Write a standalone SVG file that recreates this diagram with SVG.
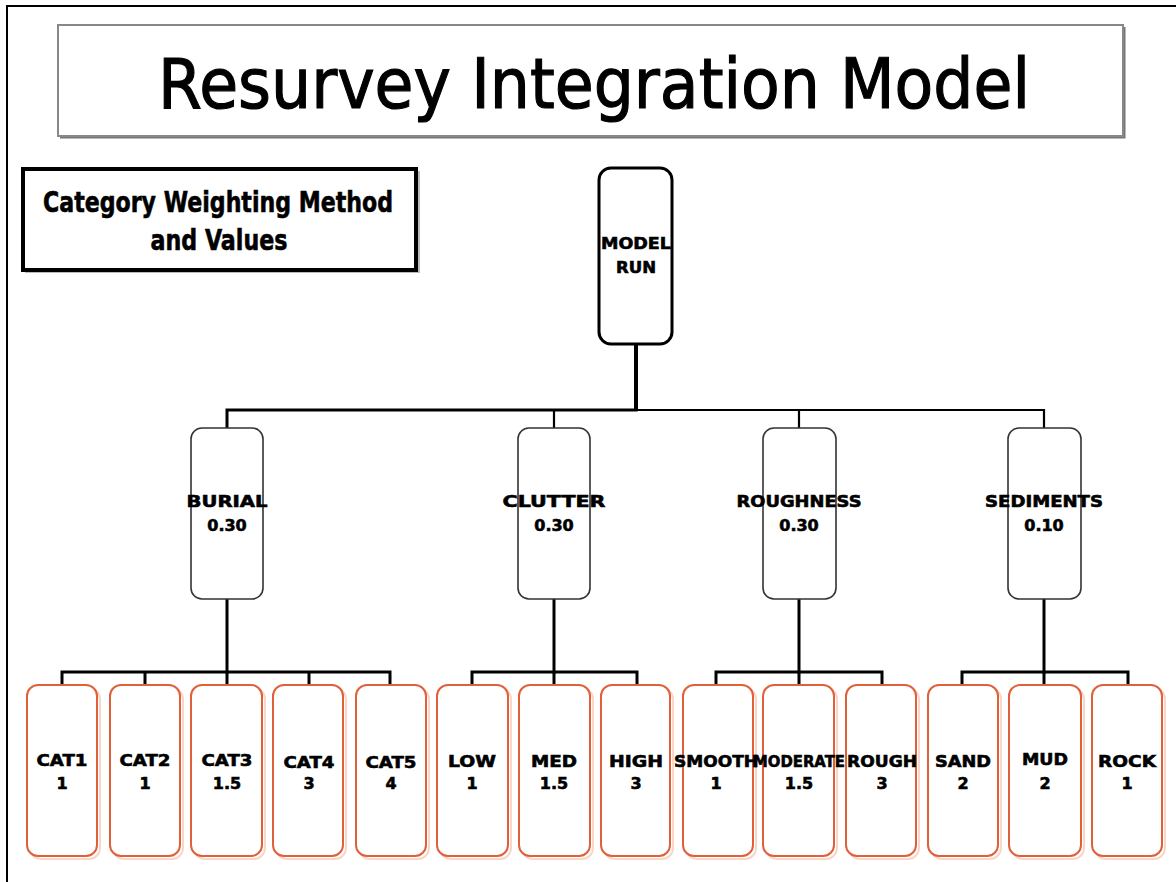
<svg xmlns="http://www.w3.org/2000/svg" width="1176" height="882" viewBox="0 0 1176 882">
  <style>
    .lbl { font-family: "DejaVu Sans", Verdana, sans-serif; font-weight: bold; font-size: 16px; fill: #000; stroke: #000; stroke-width: 0.6; text-anchor: middle; }
    .mid { fill: #fff; stroke: #333; stroke-width: 1.6; }
    .leaf { fill: #fff; stroke: #e0603a; stroke-width: 2; }
    .leafsh { fill: none; stroke: #f9d6c7; stroke-width: 2; }
    .wire { fill: none; stroke: #000; stroke-width: 3; stroke-linecap: square; }
    .wire2 { fill: none; stroke: #000; stroke-width: 2.2; }
  </style>

  <rect width="1176" height="882" fill="#fff"/>

  <!-- page frame (top and left edges only) -->
  <path d="M7 882 V6 H1176" fill="none" stroke="#000" stroke-width="2"/>

  <!-- heading -->
  <g id="title">
    <path d="M60 137 H1124 V27" fill="none" stroke="#777" stroke-width="3"/>
    <rect x="58" y="25" width="1065" height="111" fill="#fff" stroke="#888" stroke-width="2"/>
    <text x="594" y="108" font-family="DejaVu Sans, Verdana, sans-serif" font-size="70" stroke="#000" stroke-width="1.2" textLength="872" lengthAdjust="spacingAndGlyphs" text-anchor="middle">Resurvey Integration Model</text>
  </g>

  <g id="legend">
    <rect x="25" y="171" width="395" height="102" fill="#bbb"/>
    <rect x="23" y="169" width="393" height="101" fill="#fff" stroke="#000" stroke-width="4"/>
    <text x="218" y="212" font-family="DejaVu Sans, Verdana, sans-serif" font-weight="bold" font-size="28" stroke="#000" stroke-width="0.6" textLength="350" lengthAdjust="spacingAndGlyphs" text-anchor="middle">Category Weighting Method</text>
    <text x="219" y="250" font-family="DejaVu Sans, Verdana, sans-serif" font-weight="bold" font-size="28" stroke="#000" stroke-width="0.6" textLength="137" lengthAdjust="spacingAndGlyphs" text-anchor="middle">and Values</text>
  </g>

  <!-- connectors -->
  <g id="connectors">
    <line x1="636" y1="345" x2="636" y2="410" stroke="#000" stroke-width="4"/>
    <path class="wire" d="M227 427 V410 H636"/>
    <path class="wire2" d="M636 410 H1044 V428 M554 410 V428 M799 410 V428"/>
    <line class="wire" x1="227" y1="599" x2="227" y2="672"/>
    <line class="wire" x1="554" y1="599" x2="554" y2="672"/>
    <line class="wire" x1="799" y1="599" x2="799" y2="672"/>
    <line class="wire" x1="1044" y1="599" x2="1044" y2="672"/>
    <path class="wire" d="M62 685 V672 H390 V685 M145 672 V685 M227 672 V685 M309 672 V685"/>
    <path class="wire" d="M472 685 V672 H637 V685 M554 672 V685"/>
    <path class="wire" d="M716 685 V672 H882 V685 M799 672 V685"/>
    <path class="wire" d="M962 685 V672 H1128 V685 M1044 672 V685"/>
  </g>

  <g id="model-run">
    <rect x="599" y="168" width="73" height="176" rx="12" fill="#fff" stroke="#000" stroke-width="3"/>
    <text class="lbl" x="636" y="249" textLength="70" lengthAdjust="spacingAndGlyphs">MODEL</text>
    <text class="lbl" x="636" y="273" textLength="40" lengthAdjust="spacingAndGlyphs">RUN</text>
  </g>

  <g id="burial">
    <rect class="mid" x="191" y="428" width="72" height="171" rx="11"/>
    <text class="lbl" x="227" y="507" textLength="81" lengthAdjust="spacingAndGlyphs">BURIAL</text>
    <text class="lbl" x="227" y="531">0.30</text>
  </g>
  <g id="clutter">
    <rect class="mid" x="518" y="428" width="72" height="171" rx="11"/>
    <text class="lbl" x="554" y="507" textLength="103" lengthAdjust="spacingAndGlyphs">CLUTTER</text>
    <text class="lbl" x="554" y="531">0.30</text>
  </g>
  <g id="roughness">
    <rect class="mid" x="763" y="428" width="73" height="171" rx="11"/>
    <text class="lbl" x="799" y="507" textLength="125" lengthAdjust="spacingAndGlyphs">ROUGHNESS</text>
    <text class="lbl" x="799" y="531">0.30</text>
  </g>
  <g id="sediments">
    <rect class="mid" x="1008" y="428" width="73" height="171" rx="11"/>
    <text class="lbl" x="1044" y="507" textLength="118" lengthAdjust="spacingAndGlyphs">SEDIMENTS</text>
    <text class="lbl" x="1044" y="531">0.10</text>
  </g>

  <!-- leaf categories -->
  <g id="cat1">
    <rect class="leafsh" x="30" y="688" width="70" height="171" rx="11"/>
    <rect class="leaf" x="27" y="685" width="70" height="171" rx="11"/>
    <text class="lbl" x="62" y="766" textLength="51" lengthAdjust="spacingAndGlyphs">CAT1</text>
    <text class="lbl" x="62" y="789">1</text>
  </g>
  <g id="cat2">
    <rect class="leafsh" x="113" y="688" width="70" height="171" rx="11"/>
    <rect class="leaf" x="110" y="685" width="70" height="171" rx="11"/>
    <text class="lbl" x="145" y="766" textLength="51" lengthAdjust="spacingAndGlyphs">CAT2</text>
    <text class="lbl" x="145" y="789">1</text>
  </g>
  <g id="cat3">
    <rect class="leafsh" x="194" y="688" width="71" height="171" rx="11"/>
    <rect class="leaf" x="191" y="685" width="71" height="171" rx="11"/>
    <text class="lbl" x="227" y="766" textLength="51" lengthAdjust="spacingAndGlyphs">CAT3</text>
    <text class="lbl" x="227" y="789">1.5</text>
  </g>
  <g id="cat4">
    <rect class="leafsh" x="276" y="688" width="70" height="171" rx="11"/>
    <rect class="leaf" x="273" y="685" width="70" height="171" rx="11"/>
    <text class="lbl" x="309" y="768" textLength="51" lengthAdjust="spacingAndGlyphs">CAT4</text>
    <text class="lbl" x="309" y="789">3</text>
  </g>
  <g id="cat5">
    <rect class="leafsh" x="359" y="688" width="70" height="171" rx="11"/>
    <rect class="leaf" x="356" y="685" width="70" height="171" rx="11"/>
    <text class="lbl" x="391" y="768" textLength="51" lengthAdjust="spacingAndGlyphs">CAT5</text>
    <text class="lbl" x="391" y="789">4</text>
  </g>
  <g id="low">
    <rect class="leafsh" x="440" y="688" width="71" height="171" rx="11"/>
    <rect class="leaf" x="437" y="685" width="71" height="171" rx="11"/>
    <text class="lbl" x="472" y="767" textLength="48" lengthAdjust="spacingAndGlyphs">LOW</text>
    <text class="lbl" x="472" y="789">1</text>
  </g>
  <g id="med">
    <rect class="leafsh" x="522" y="688" width="71" height="171" rx="11"/>
    <rect class="leaf" x="519" y="685" width="71" height="171" rx="11"/>
    <text class="lbl" x="554" y="767" textLength="46" lengthAdjust="spacingAndGlyphs">MED</text>
    <text class="lbl" x="554" y="789">1.5</text>
  </g>
  <g id="high">
    <rect class="leafsh" x="604" y="688" width="69" height="171" rx="11"/>
    <rect class="leaf" x="601" y="685" width="69" height="171" rx="11"/>
    <text class="lbl" x="636" y="767" textLength="54" lengthAdjust="spacingAndGlyphs">HIGH</text>
    <text class="lbl" x="636" y="789">3</text>
  </g>
  <g id="smooth">
    <rect class="leafsh" x="686" y="688" width="70" height="171" rx="11"/>
    <rect class="leaf" x="683" y="685" width="70" height="171" rx="11"/>
    <text class="lbl" x="716" y="767" textLength="84" lengthAdjust="spacingAndGlyphs">SMOOTH</text>
    <text class="lbl" x="716" y="789">1</text>
  </g>
  <g id="moderate">
    <rect class="leafsh" x="766" y="688" width="71" height="171" rx="11"/>
    <rect class="leaf" x="763" y="685" width="71" height="171" rx="11"/>
    <text class="lbl" x="799" y="767" textLength="92" lengthAdjust="spacingAndGlyphs">MODERATE</text>
    <text class="lbl" x="799" y="789">1.5</text>
  </g>
  <g id="rough">
    <rect class="leafsh" x="849" y="688" width="70" height="171" rx="11"/>
    <rect class="leaf" x="846" y="685" width="70" height="171" rx="11"/>
    <text class="lbl" x="882" y="767" textLength="70" lengthAdjust="spacingAndGlyphs">ROUGH</text>
    <text class="lbl" x="882" y="789">3</text>
  </g>
  <g id="sand">
    <rect class="leafsh" x="931" y="688" width="70" height="171" rx="11"/>
    <rect class="leaf" x="928" y="685" width="70" height="171" rx="11"/>
    <text class="lbl" x="963" y="767" textLength="56" lengthAdjust="spacingAndGlyphs">SAND</text>
    <text class="lbl" x="963" y="789">2</text>
  </g>
  <g id="mud">
    <rect class="leafsh" x="1012" y="688" width="72" height="171" rx="11"/>
    <rect class="leaf" x="1009" y="685" width="72" height="171" rx="11"/>
    <text class="lbl" x="1045" y="765" textLength="46" lengthAdjust="spacingAndGlyphs">MUD</text>
    <text class="lbl" x="1045" y="789">2</text>
  </g>
  <g id="rock">
    <rect class="leafsh" x="1095" y="688" width="70" height="171" rx="11"/>
    <rect class="leaf" x="1092" y="685" width="70" height="171" rx="11"/>
    <text class="lbl" x="1127" y="767" textLength="58" lengthAdjust="spacingAndGlyphs">ROCK</text>
    <text class="lbl" x="1127" y="789">1</text>
  </g>
</svg>
